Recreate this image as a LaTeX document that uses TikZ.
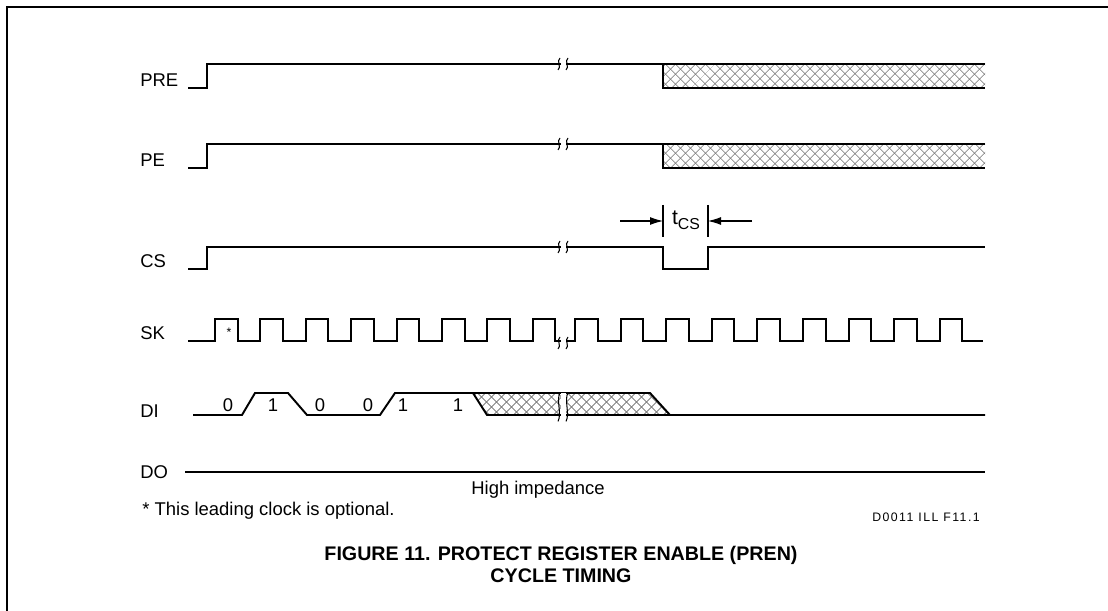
\documentclass[tikz,border=0pt]{standalone}
\usepackage{fontspec}
\setmainfont{Liberation Sans}
\newfontfamily\codefont[LetterSpace=12]{Liberation Sans}
\usetikzlibrary{arrows.meta, patterns.meta, positioning}
\tikzset{
	wave/.style    ={line width=1.1pt, line join=miter},
	sigName/.style ={anchor=west, inner sep=0pt, font=\fontsize{10.5}{12}\selectfont},
	bitVal/.style  ={inner sep=0pt, font=\fontsize{10.5}{12}\selectfont},
	dimArrow/.style={-{Latex[length=2.6mm, width=1.6mm]}, line width=0.6pt},
	dimTick/.style ={line width=0.6pt},
	% break marks on the time axis
	pics/brk/.style={code={
		\fill[white] (-2.5,-6) rectangle (2.5,6);
		\draw[line width=0.6pt] (-5,6) .. controls (-1,3) and (-7,-3) .. (-3,-6);
		\draw[line width=0.6pt] (3,6) .. controls (7,3) and (1,-3) .. (5,-6);
	}},
}

\begin{document}
\begin{tikzpicture}[x=0.02cm, y=-0.02cm]
	\useasboundingbox (0,0) rectangle (1108,611);
	% frame
	\draw[line width=1.6pt] (7,611) -- (7,7) -- (1108,7);

	% signal names
	\foreach \n/\y in {PRE/80, PE/160, CS/261, SK/333, DI/411, DO/472}
		\node[sigName] (lbl\n) at (140,\y) {\n};

	% PRE and PE
	\foreach \n/\hi/\lo in {PRE/64/88, PE/144/168} {
		\foreach \a in {45, -45}
			\fill[pattern={Lines[angle=\a, distance=4pt, line width=0.45pt]}, pattern color=black!55] (663,\hi) rectangle (985,\lo);
		\draw[wave] (188,\lo) -- (207,\lo) -- (207,\hi) -- (985,\hi);
		\draw[wave] (663,\hi) -- (663,\lo) -- (985,\lo);
		\pic at (563,\hi) {brk};
	}

	% CS
	\draw[wave] (188,269) -- (207,269) -- (207,247) -- (663,247) -- (663,269)
		-- (708,269) -- (708,247) -- (985,247);
	\pic at (563,247) {brk};
	\draw[dimTick] (663,205) -- (663,237);
	\draw[dimTick] (708,205) -- (708,237);
	\draw[dimArrow] (620,221) -- (663,221);
	\draw[dimArrow] (752,221) -- (708,221);
	\node[inner sep=0pt, font=\fontsize{12}{13}\selectfont] (tcs) at (686,220) {t\raisebox{-0.45ex}{\fontsize{9}{10}\selectfont CS}};

	% SK
	\draw[wave] (188,341)
		\foreach \i [evaluate=\i as \r using 215+45.4*\i] in {0,...,7} {
			-- (\r,341) -- (\r,319) -- (\r+22.6,319) -- (\r+22.6,341)
		} -- (575,341)
		\foreach \i [evaluate=\i as \r using 575+45.6*\i] in {0,...,8} {
			-- (\r,341) -- (\r,319) -- (\r+22.6,319) -- (\r+22.6,341)
		} -- (983,341);
	\pic at (563,343) {brk};
	\node[font=\fontsize{7}{8}\selectfont, inner sep=0pt] (opt) at (229,332) {*};

	% DI
	\foreach \a in {45, -45}
		\fill[pattern={Lines[angle=\a, distance=4pt, line width=0.45pt]}, pattern color=black!55] (473,393) -- (487,415) -- (670,415) -- (650,393) -- cycle;
	\draw[wave] (193,415) -- (242,415) -- (255,393) -- (288,393) -- (307,415)
		-- (380,415) -- (395,393) -- (650,393) -- (670,415) -- (985,415);
	\draw[wave] (473,393) -- (487,415) -- (670,415);
	\pic[yscale=2.4] at (563,407) {brk};
	\foreach \x/\b in {228/0, 273/1, 320/0, 368/0, 403/1, 458/1}
		\node[bitVal] (bit\x) at (\x,405) {\b};

	% DO
	\draw[wave] (185,472) -- (985,472);
	\node[bitVal] (hiZ) at (538,490) {High impedance};

	% notes and caption
	\node[anchor=west, inner sep=0pt, font=\fontsize{10.5}{12}\selectfont] (note) at (142,511) {* This leading clock is optional.};
	\node[inner sep=0pt, font=\codefont\fontsize{7}{8}\selectfont] (figId) at (926,517) {D0011 ILL F11.1};
	\node[align=center, inner sep=0pt, font=\bfseries\fontsize{11.2}{12.5}\selectfont] (caption) at (561,564)
		{FIGURE 11. PROTECT REGISTER ENABLE (PREN)\\CYCLE TIMING};
\end{tikzpicture}
\end{document}
